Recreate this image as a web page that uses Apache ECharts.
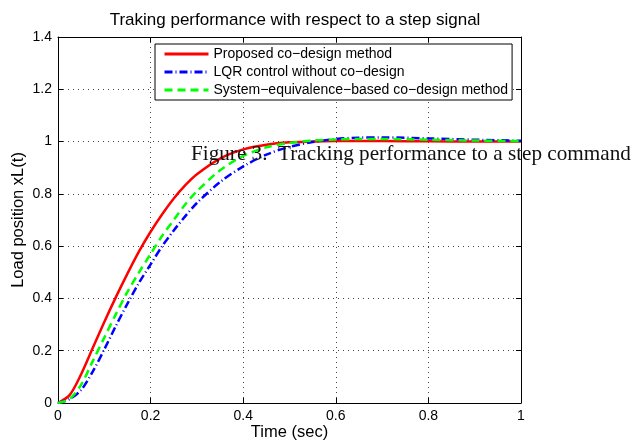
<!DOCTYPE html>
<html>
<head>
<meta charset="utf-8">
<script src="https://cdn.jsdelivr.net/npm/echarts@6/dist/echarts.min.js"></script>
<style>
  html, body { margin: 0; padding: 0; background: #fff; }
  #main { width: 634px; height: 441px; }
</style>
</head>
<body>
<div id="main"></div>
<script>
// time samples (sec)
const timeData = [0, 0.025, 0.05, 0.075, 0.1, 0.125, 0.15, 0.175, 0.2, 0.225, 0.25, 0.275,
  0.3, 0.35, 0.4, 0.45, 0.5, 0.55, 0.6, 0.65, 0.7, 0.8, 0.9, 1.0];
// Proposed co-design method
const proposedData = [0, 0.03, 0.11, 0.21, 0.31, 0.405, 0.495, 0.58, 0.655, 0.722, 0.782, 0.833,
  0.875, 0.935, 0.97, 0.988, 0.997, 1.0, 1.002, 1.002, 1.002, 1.001, 1.0, 1.0];
// LQR control without co-design
const lqrData = [0, 0.015, 0.05, 0.12, 0.205, 0.295, 0.38, 0.46, 0.53, 0.6, 0.66, 0.715,
  0.765, 0.845, 0.905, 0.95, 0.98, 0.998, 1.01, 1.015, 1.016, 1.012, 1.007, 1.003];
// System-equivalence-based co-design method
const equivData = [0, 0.015, 0.07, 0.16, 0.25, 0.34, 0.425, 0.5, 0.57, 0.64, 0.7, 0.76,
  0.81, 0.89, 0.945, 0.978, 0.995, 1.004, 1.008, 1.01, 1.01, 1.007, 1.004, 1.002];
const seriesNames = [
  "Proposed co\u2212design method",
  "LQR control without co\u2212design",
  "System\u2212equivalence\u2212based co\u2212design method",
];
const xTicks = { min: 0, max: 1, interval: 0.2 };
const yTicks = { min: 0, max: 1.4, interval: 0.2 };

const font = "Liberation Sans, Arial, sans-serif";
const pairs = (vals) => timeData.map((t, i) => [t, vals[i]]);

const chart = echarts.init(document.getElementById("main"));

// shared axis look (matlab style: inside ticks, dotted grid)
const axisBase = (pos, show) => ({
  type: "value",
  position: pos,
  axisLine: { show: true, onZero: false, lineStyle: { color: "#000", width: 1 } },
  axisTick: { show: true, inside: true, length: 5, lineStyle: { color: "#000" } },
  axisLabel: { show: show, color: "#000", fontSize: 14, fontFamily: font, margin: 6,
    formatter: (v) => String(Math.round(v * 10) / 10) },
  splitLine: { show: false },
});

let option = {
  animation: false,
  title: {
    text: "Traking performance with respect to a step signal",
    left: 290,
    textAlign: "center",
    top: 7,
    textStyle: { fontSize: 17, fontWeight: "normal", color: "#000", fontFamily: font },
  },
  grid: { left: 58, right: 113, top: 37, bottom: 38, containLabel: false, outerBoundsMode: "none" },
  legend: {
    orient: "vertical",
    left: 155,
    top: 44,
    padding: [3, 4, 3, 8],
    itemGap: 4,
    itemWidth: 44,
    itemHeight: 14,
    backgroundColor: "#fff",
    borderColor: "#000",
    borderWidth: 1,
    borderRadius: 0,
    selectedMode: false,
    z: 50,
    itemStyle: { opacity: 0 },
    lineStyle: { width: 3 },
    textStyle: { fontSize: 14, color: "#000", fontFamily: font },
    data: seriesNames,
  },
  xAxis: [
    Object.assign(axisBase("bottom", true), xTicks, {
      name: "Time (sec)",
      nameLocation: "middle",
      nameGap: 21,
      nameMoveOverlap: false,
      nameTextStyle: { fontSize: 16.5, color: "#000", fontFamily: font },
      splitLine: { show: true, lineStyle: { type: [1, 4], color: "#444", width: 1 } },
    }),
    Object.assign(axisBase("top", false), xTicks),
  ],
  yAxis: [
    Object.assign(axisBase("left", true), yTicks, {
      name: "Load position xL(t)",
      nameLocation: "middle",
      nameGap: 31,
      nameMoveOverlap: false,
      nameTextStyle: { fontSize: 16.5, color: "#000", fontFamily: font },
      splitLine: { show: true, lineStyle: { type: [1, 4], color: "#444", width: 1 } },
    }),
    Object.assign(axisBase("right", false), yTicks),
  ],
  graphic: [
    {
      type: "text",
      left: 191,
      top: 144,
      z: 100,
      style: {
        text: "Figure 3.  Tracking performance to a step command",
        font: "21.2px 'Liberation Serif', 'Times New Roman', serif",
        fill: "#111",
      },
    },
  ],
  series: [
    {
      name: seriesNames[0],
      type: "line",
      data: pairs(proposedData),
      smooth: 0.3,
      showSymbol: false,
      symbol: "none",
      lineStyle: { color: "#ff0000", width: 2.5, type: "solid" },
      itemStyle: { color: "#ff0000" },
      z: 3,
    },
    {
      name: seriesNames[1],
      type: "line",
      data: pairs(lqrData),
      smooth: 0.3,
      showSymbol: false,
      symbol: "none",
      lineStyle: { color: "#0000ff", width: 2.5, type: [8, 3, 1, 3] },
      itemStyle: { color: "#0000ff" },
      z: 4,
    },
    {
      name: seriesNames[2],
      type: "line",
      data: pairs(equivData),
      smooth: 0.3,
      showSymbol: false,
      symbol: "none",
      lineStyle: { color: "#00ff00", width: 2.5, type: [8, 5] },
      itemStyle: { color: "#00ff00" },
      z: 5,
    },
  ],
};
chart.setOption(option);
</script>
</body>
</html>
